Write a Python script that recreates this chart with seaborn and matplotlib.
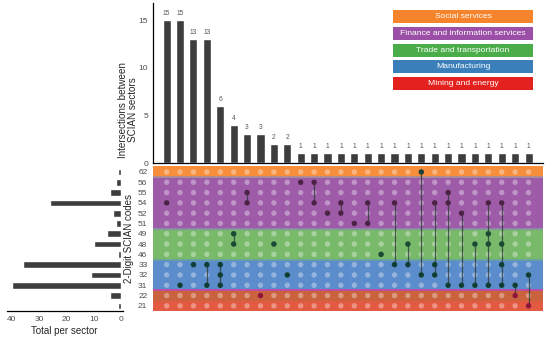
import matplotlib
matplotlib.use("Agg")
import matplotlib.pyplot as plt
import seaborn as sns
import numpy as np
import pandas as pd
from matplotlib.patches import Rectangle

# sector codes, top to bottom
codes = ["62", "56", "55", "54", "52", "51", "49", "48", "46", "33", "32", "31", "22", "21"]
sector_totals = [1, 2, 4, 26, 3, 2, 5, 10, 1, 36, 11, 40, 4, 1]

groups = ["Social services", "Finance and information services", "Trade and transportation",
          "Manufacturing", "Mining and energy"]
group_codes = [["62"], ["56", "55", "54", "52", "51"], ["49", "48", "46"], ["33", "32", "31"], ["22", "21"]]
legend_colors = ["#f5842c", "#9b4fa6", "#4aad4a", "#3a7fba", "#e3221f"]
band_colors = ["#f78e3c", "#9d5ba8", "#78b96a", "#5b8ccb", "#e35a43"]
dot_colors = ["#1f3f35", "#4b2145", "#1a4a32", "#0f3e36", "#8e1538"]

intersection_counts = [15, 15, 13, 13, 6, 4, 3, 3, 2, 2, 1, 1, 1, 1, 1, 1, 1, 1, 1, 1,
                       1, 1, 1, 1, 1, 1, 1, 1]
intersection_members = [
    ["54"], ["31"], ["33"], ["33", "31"], ["33", "32", "31"], ["49", "48"], ["55", "54"],
    ["22"], ["48"], ["32"], ["56"], ["56", "54"], ["52"], ["54", "52"], ["51"], ["54", "51"],
    ["46"], ["54", "33"], ["48", "33"], ["62", "32"], ["54", "33", "32"], ["55", "54", "31"],
    ["52", "31"], ["48", "31"], ["54", "49", "48", "31"], ["54", "48", "33", "31"],
    ["31", "22"], ["32", "21"],
]

sns.set_style("white")
plt.rcParams["font.family"] = ["Liberation Sans", "DejaVu Sans"]

W, H = 550, 338
fig = plt.figure(figsize=(W / 100, H / 100), dpi=100)

def box(l, t, r, b):
    return [l / W, (H - b) / H, (r - l) / W, (b - t) / H]

ax_top = fig.add_axes(box(153, 3, 543, 163))
ax_mat = fig.add_axes(box(153, 166, 543, 311))
ax_left = fig.add_axes(box(6.7, 166, 122.7, 311))

row_of = {c: i for i, c in enumerate(codes)}
group_of = {c: g for g, cs in enumerate(group_codes) for c in cs}
cols = np.arange(len(intersection_counts))
tick_col = "#4d4d4d"

# top bars
sns.barplot(x=cols, y=intersection_counts, native_scale=True, color="#3d3d3d",
            width=0.6, ax=ax_top, saturation=1)
for c, v in zip(cols, intersection_counts):
    ax_top.text(c, v + 0.35, str(v), ha="center", va="bottom", fontsize=4.8, color="#555555")
ax_top.set_xlim(-1.02, 28.08)
ax_top.set_ylim(0, 16.8)
ax_top.set_yticks([0, 5, 10, 15])
ax_top.set_xticks([])
ax_top.tick_params(axis="y", labelsize=6, colors=tick_col, length=2, width=0.6, pad=1.5)
for s in ["top", "right"]:
    ax_top.spines[s].set_visible(False)
for s in ["left", "bottom"]:
    ax_top.spines[s].set_linewidth(0.9)
    ax_top.spines[s].set_color("black")
ax_top.set_ylabel("")
ax_top.set_xlabel("")
fig.text(127.5 / W, 1 - 110 / H, "Intersections between\nSCIAN sectors", rotation=90,
         ha="center", va="center", fontsize=7.1, linespacing=1.0)

# legend boxes
for i, (g, col) in enumerate(zip(groups, legend_colors)):
    top = 10 + i * 16.75
    fig.patches.append(Rectangle((393 / W, 1 - (top + 13) / H), 140 / W, 13 / H,
                                 transform=fig.transFigure, facecolor=col, edgecolor="none"))
    fig.text(463 / W, 1 - (top + 6.7) / H, g, ha="center", va="center", fontsize=6.1,
             color="white")

# matrix bands
for g, cs in enumerate(group_codes):
    r0 = row_of[cs[0]] - 0.5
    r1 = row_of[cs[-1]] + 0.5
    if g == 0:
        r0 = -0.6
    if g == len(group_codes) - 1:
        r1 = 13.55
    ax_mat.add_patch(Rectangle((-1.02, r0), 29.1, r1 - r0, facecolor=band_colors[g],
                               edgecolor="none", zorder=0))
ax_mat.add_patch(Rectangle((-1.02, 11.5), 29.1, 1.0, facecolor="#b86a3a", alpha=0.55,
                           edgecolor="none", zorder=0.5))
for y, c in [(0.5, "#a8909a"), (5.5, "#8a8fa8"), (8.5, "#6aa2a0"), (11.5, "#c04aa8")]:
    ax_mat.axhline(y, color=c, lw=1.3, zorder=0.6)

grid = pd.DataFrame([(c, r) for c in cols for r in range(len(codes))], columns=["col", "row"])
sns.scatterplot(data=grid, x="col", y="row", color="white", alpha=0.35, s=15,
                edgecolor="none", ax=ax_mat, zorder=1)

act = pd.DataFrame([(c, row_of[m], group_of[m]) for c, ms in enumerate(intersection_members)
                    for m in ms], columns=["col", "row", "grp"])
for c, ms in enumerate(intersection_members):
    rows = [row_of[m] for m in ms]
    if len(rows) > 1:
        ax_mat.plot([c, c], [min(rows), max(rows)], color="#2e3b38", lw=0.9, alpha=0.8, zorder=2)
sns.scatterplot(data=act, x="col", y="row", hue="grp", palette=dict(enumerate(dot_colors)),
                s=16, edgecolor="none", legend=False, ax=ax_mat, zorder=3)
ax_mat.set_xlim(-1.02, 28.08)
ax_mat.set_ylim(13.5, -0.58)
ax_mat.set_xticks([])
ax_mat.set_yticks(range(len(codes)))
ax_mat.set_yticklabels(codes)
ax_mat.tick_params(axis="y", labelsize=6, colors=tick_col, length=0, pad=4)
for s in ax_mat.spines.values():
    s.set_visible(False)
ax_mat.set_xlabel("")
ax_mat.set_ylabel("2-Digit SCIAN codes", fontsize=7, labelpad=3)

# left totals
sns.barplot(x=sector_totals, y=list(range(len(codes))), orient="h", native_scale=True,
            color="#3d3d3d", width=0.65, ax=ax_left, saturation=1)
ax_left.set_xlim(41.9, -0.6)
ax_left.set_ylim(13.5, -0.58)
ax_left.set_yticks([])
ax_left.set_xticks([40, 30, 20, 10, 0])
ax_left.tick_params(axis="x", labelsize=6, colors=tick_col, length=2, width=0.6, pad=1.5)
for s in ["top", "right", "left"]:
    ax_left.spines[s].set_visible(False)
ax_left.spines["bottom"].set_color("black")
ax_left.spines["bottom"].set_linewidth(0.9)
ax_left.set_ylabel("")
ax_left.set_xlabel("Total per sector", fontsize=7, labelpad=2)

fig.savefig("out.png", dpi=100)
